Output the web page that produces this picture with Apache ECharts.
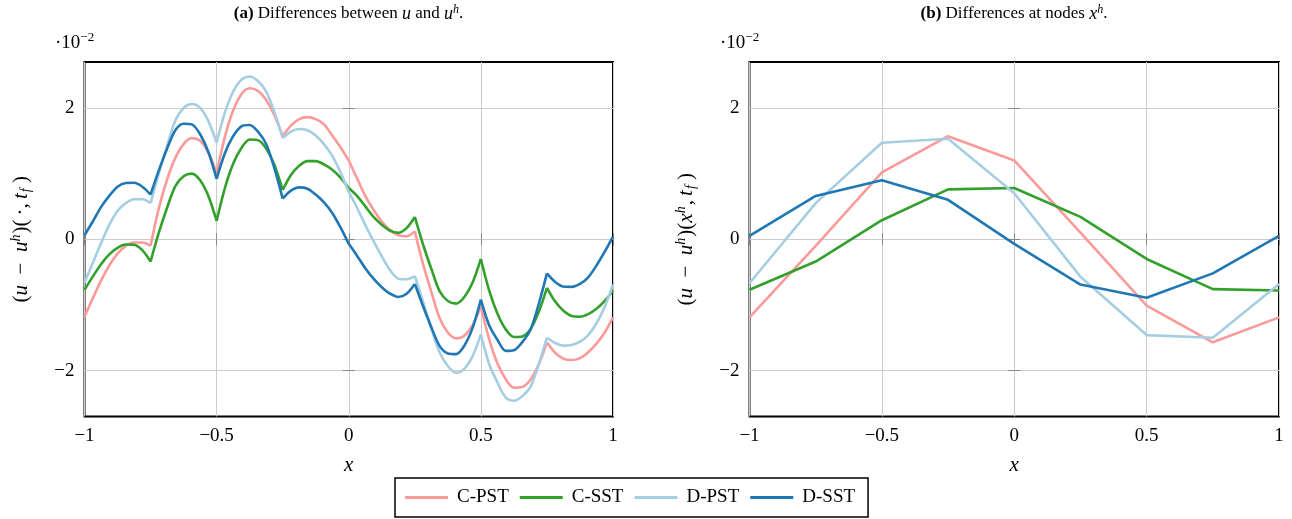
<!DOCTYPE html>
<html><head><meta charset="utf-8">
<script src="https://cdn.jsdelivr.net/npm/echarts@6/dist/echarts.min.js"></script>
<style>html,body{margin:0;padding:0;background:#fff}#c{width:1292px;height:519px}</style>
</head><body><div id="c"></div>
<script>
const seriesNames = ['C-PST', 'C-SST', 'D-PST', 'D-SST'];
const seriesColors = ['#fb9a99', '#33a02c', '#a6cee3', '#1f78b4'];

// panel (a): curves read at every 1/32 of x (8 readings per element)
const xFine = [-1, -0.96875, -0.9375, -0.90625, -0.875, -0.84375, -0.8125, -0.78125, -0.75,
  -0.71875, -0.6875, -0.65625, -0.625, -0.59375, -0.5625, -0.53125, -0.5,
  -0.46875, -0.4375, -0.40625, -0.375, -0.34375, -0.3125, -0.28125, -0.25,
  -0.21875, -0.1875, -0.15625, -0.125, -0.09375, -0.0625, -0.03125, 0,
  0.03125, 0.0625, 0.09375, 0.125, 0.15625, 0.1875, 0.21875, 0.25,
  0.28125, 0.3125, 0.34375, 0.375, 0.40625, 0.4375, 0.46875, 0.5,
  0.53125, 0.5625, 0.59375, 0.625, 0.65625, 0.6875, 0.71875, 0.75,
  0.78125, 0.8125, 0.84375, 0.875, 0.90625, 0.9375, 0.96875, 1];
const cpstFine = [-1.18, -0.90, -0.63, -0.40, -0.22, -0.10, -0.05, -0.05, -0.10,
  0.47, 0.91, 1.24, 1.45, 1.54, 1.50, 1.32, 1.01,
  1.56, 1.96, 2.21, 2.30, 2.26, 2.12, 1.89, 1.57,
  1.73, 1.83, 1.86, 1.83, 1.75, 1.58, 1.40, 1.20,
  0.93, 0.66, 0.45, 0.27, 0.14, 0.06, 0.045, 0.12,
  -0.38, -0.80, -1.20, -1.42, -1.51, -1.47, -1.31, -1.02,
  -1.52, -1.89, -2.13, -2.26, -2.25, -2.14, -1.91, -1.57,
  -1.73, -1.82, -1.84, -1.81, -1.72, -1.59, -1.42, -1.19];
const csstFine = [-0.77, -0.57, -0.38, -0.23, -0.13, -0.08, -0.083, -0.166, -0.34,
  0.10, 0.48, 0.81, 0.96, 1.00, 0.90, 0.66, 0.28,
  0.78, 1.15, 1.39, 1.52, 1.51, 1.38, 1.13, 0.75,
  0.98, 1.12, 1.19, 1.19, 1.14, 1.06, 0.94, 0.78,
  0.66, 0.50, 0.34, 0.22, 0.13, 0.10, 0.17, 0.34,
  -0.08, -0.45, -0.79, -0.94, -0.98, -0.88, -0.66, -0.30,
  -0.78, -1.13, -1.37, -1.49, -1.48, -1.37, -1.11, -0.74,
  -0.95, -1.09, -1.17, -1.18, -1.14, -1.06, -0.94, -0.78];
const dpstFine = [-0.66, -0.36, -0.06, 0.22, 0.43, 0.55, 0.61, 0.61, 0.55,
  1.00, 1.42, 1.81, 2.00, 2.06, 2.00, 1.80, 1.47,
  1.93, 2.25, 2.43, 2.48, 2.41, 2.25, 1.94, 1.54,
  1.64, 1.68, 1.66, 1.58, 1.45, 1.27, 1.02, 0.72,
  0.48, 0.22, -0.03, -0.26, -0.47, -0.60, -0.61, -0.56,
  -0.95, -1.36, -1.72, -1.93, -2.035, -1.97, -1.78, -1.45,
  -1.90, -2.18, -2.41, -2.46, -2.39, -2.25, -1.91, -1.50,
  -1.58, -1.62, -1.61, -1.56, -1.46, -1.28, -1.03, -0.69];
const dsstFine = [0.06, 0.27, 0.49, 0.66, 0.80, 0.856, 0.86, 0.80, 0.68,
  1.05, 1.38, 1.66, 1.76, 1.75, 1.60, 1.33, 0.92,
  1.31, 1.57, 1.72, 1.74, 1.64, 1.45, 1.08, 0.62,
  0.74, 0.79, 0.77, 0.68, 0.56, 0.40, 0.18, -0.07,
  -0.25, -0.44, -0.60, -0.73, -0.83, -0.88, -0.83, -0.68,
  -1.02, -1.34, -1.625, -1.74, -1.75, -1.62, -1.35, -0.92,
  -1.31, -1.53, -1.70, -1.69, -1.57, -1.38, -0.99, -0.52,
  -0.65, -0.72, -0.725, -0.68, -0.58, -0.40, -0.19, 0.04];

// panel (b): values at the nodes
const xNodes = [-1, -0.75, -0.5, -0.25, 0, 0.25, 0.5, 0.75, 1];
const cpstNodes = [-1.19, -0.10, 1.02, 1.57, 1.20, 0.10, -1.01, -1.57, -1.19];
const csstNodes = [-0.77, -0.34, 0.29, 0.76, 0.78, 0.34, -0.30, -0.76, -0.78];
const dpstNodes = [-0.67, 0.55, 1.47, 1.53, 0.70, -0.57, -1.46, -1.50, -0.68];
const dsstNodes = [0.05, 0.66, 0.90, 0.60, -0.07, -0.69, -0.89, -0.52, 0.05];

const yTicks = [-2, 0, 2];
const xTickStep = 0.5;
const yRange = [-2.7, 2.7];
const pointsPerElement = 8;

const FONT = 'Liberation Serif';
const fineSets = [cpstFine, csstFine, dpstFine, dsstFine];
const nodeSets = [cpstNodes, csstNodes, dpstNodes, dsstNodes];

const fmt = v => (v < 0 ? '\u2212' + Math.abs(v) : String(v));
const rich = {
  i: { fontFamily: FONT, fontStyle: 'italic', fontSize: 18, color: '#000' },
  b: { fontFamily: FONT, fontWeight: 'bold', fontSize: 17, color: '#000' },
  sup: { fontFamily: FONT, fontStyle: 'italic', fontSize: 12, color: '#000', verticalAlign: 'bottom', padding: [0, 0, 9, 0] },
  n: { fontFamily: FONT, fontSize: 17, color: '#000' }
};
const yRich = {
  i: { fontFamily: FONT, fontStyle: 'italic', fontSize: 21, color: '#000' },
  n: { fontFamily: FONT, fontSize: 21, color: '#000' },
  sup: { fontFamily: FONT, fontStyle: 'italic', fontSize: 14, color: '#000', verticalAlign: 'bottom', padding: [0, 1, 10, 0] },
  sub: { fontFamily: FONT, fontStyle: 'italic', fontSize: 14, color: '#000', verticalAlign: 'top', padding: [10, 1, 0, 1] }
};

const grids = [
  { left: 84.5, top: 62, width: 528.5, height: 354.5 },
  { left: 749.5, top: 62, width: 529.5, height: 354.5 }
].map(g => Object.assign(g, { show: true, borderColor: '#000', borderWidth: 2, backgroundColor: 'rgba(0,0,0,0)' }));

const tickStyle = { show: true, inside: true, length: 6, lineStyle: { color: '#888', width: 1 } };
const xAxes = [], yAxes = [];
[0, 1].forEach(g => {
  xAxes.push({
    type: 'value', gridIndex: g, min: -1, max: 1, interval: xTickStep, position: 'bottom',
    axisLine: { show: false }, axisTick: tickStyle,
    axisLabel: { fontFamily: FONT, fontSize: 19, color: '#000', margin: 10, formatter: fmt },
    splitLine: { show: true, lineStyle: { color: '#cccccc', width: 1 } },
    name: '{i|x}', nameLocation: 'middle', nameGap: 38,
    nameTextStyle: { rich: yRich }
  });
  xAxes.push({
    type: 'value', gridIndex: g, min: -1, max: 1, interval: xTickStep, position: 'top',
    axisLine: { show: false }, axisTick: tickStyle, axisLabel: { show: false }, splitLine: { show: false }
  });
  yAxes.push({
    type: 'value', gridIndex: g, min: yRange[0], max: yRange[1], position: 'left',
    axisLine: { show: false },
    axisTick: Object.assign({ customValues: yTicks }, tickStyle),
    axisLabel: { customValues: yTicks, fontFamily: FONT, fontSize: 19, color: '#000', margin: 10, formatter: fmt },
    splitLine: { show: true, lineStyle: { color: '#cccccc', width: 1 } },
    name: g === 0 ? '{n|(}{i|u}{n|\u2002\u2212\u2002}{i|u}{sup|h}{n|)(\u2009·,\u2009}{i|t}{sub|f}{n|\u2009)}'
                  : '{n|(}{i|u}{n|\u2002\u2212\u2002}{i|u}{sup|h}{n|)(}{i|x}{sup|h}{n|,\u2009}{i|t}{sub|f}{n|\u2009)}',
    nameLocation: 'middle', nameGap: 51, nameRotate: 90,
    nameTextStyle: { rich: yRich, padding: [0, 0, 0, 0] }
  });
  yAxes.push({
    type: 'value', gridIndex: g, min: yRange[0], max: yRange[1], position: 'right',
    axisLine: { show: false },
    axisTick: Object.assign({ customValues: yTicks }, tickStyle),
    axisLabel: { show: false }, splitLine: { show: false }
  });
});

const series = [];
seriesNames.forEach((name, s) => {
  const vals = fineSets[s];
  const nEl = (xFine.length - 1) / pointsPerElement;
  for (let k = 0; k < nEl; k++) {
    const data = [];
    for (let j = 0; j <= pointsPerElement; j++) {
      const idx = pointsPerElement * k + j;
      data.push([xFine[idx], vals[idx]]);
    }
    series.push({
      name: name, type: 'line', xAxisIndex: 0, yAxisIndex: 0, data: data,
      smooth: 0.3, symbol: 'none', lineStyle: { color: seriesColors[s], width: 2.6 },
      itemStyle: { color: seriesColors[s] }, z: 2 + s
    });
  }
});
seriesNames.forEach((name, s) => {
  series.push({
    name: name, type: 'line', xAxisIndex: 2, yAxisIndex: 2,
    data: xNodes.map((x, i) => [x, nodeSets[s][i]]),
    symbol: 'none', lineStyle: { color: seriesColors[s], width: 2.6 },
    itemStyle: { color: seriesColors[s] }, z: 2 + s
  });
});

const tenRich = Object.assign({ sup2: { fontFamily: FONT, fontSize: 13, color: '#000', verticalAlign: 'bottom', padding: [0, 0, 10, 0] }, t: { fontFamily: FONT, fontSize: 19, color: '#000' } }, rich);

const option = {
  animation: false,
  backgroundColor: '#fff',
  grid: grids,
  xAxis: xAxes,
  yAxis: yAxes,
  series: series,
  legend: {
    data: seriesNames.map(n => ({ name: n, icon: 'rect' })), left: 395, top: 478,
    padding: [10, 13, 10, 10], itemGap: 11, itemWidth: 43, itemHeight: 3,
    borderColor: '#000', borderWidth: 1.5,
    textStyle: { fontFamily: FONT, fontSize: 19, color: '#000', padding: [0, 0, 0, 4] }
  },
  graphic: [
    { type: 'text', x: 348.5, y: 14, style: { text: '{b|(a)}{n| Differences between }{i|u}{n| and }{i|u}{sup|h}{n|.}', rich: rich, align: 'center', verticalAlign: 'middle' } },
    { type: 'text', x: 1014, y: 14, style: { text: '{b|(b)}{n| Differences at nodes }{i|x}{sup|h}{n|.}', rich: rich, align: 'center', verticalAlign: 'middle' } },
    { type: 'text', x: 55, y: 43, style: { text: '{t|·10}{sup2|\u22122}', rich: tenRich, align: 'left', verticalAlign: 'middle' } },
    { type: 'text', x: 720, y: 43, style: { text: '{t|·10}{sup2|\u22122}', rich: tenRich, align: 'left', verticalAlign: 'middle' } }
  ]
};
const chart = echarts.init(document.getElementById('c'), null, { renderer: 'canvas' });
chart.setOption(option);
</script></body></html>
